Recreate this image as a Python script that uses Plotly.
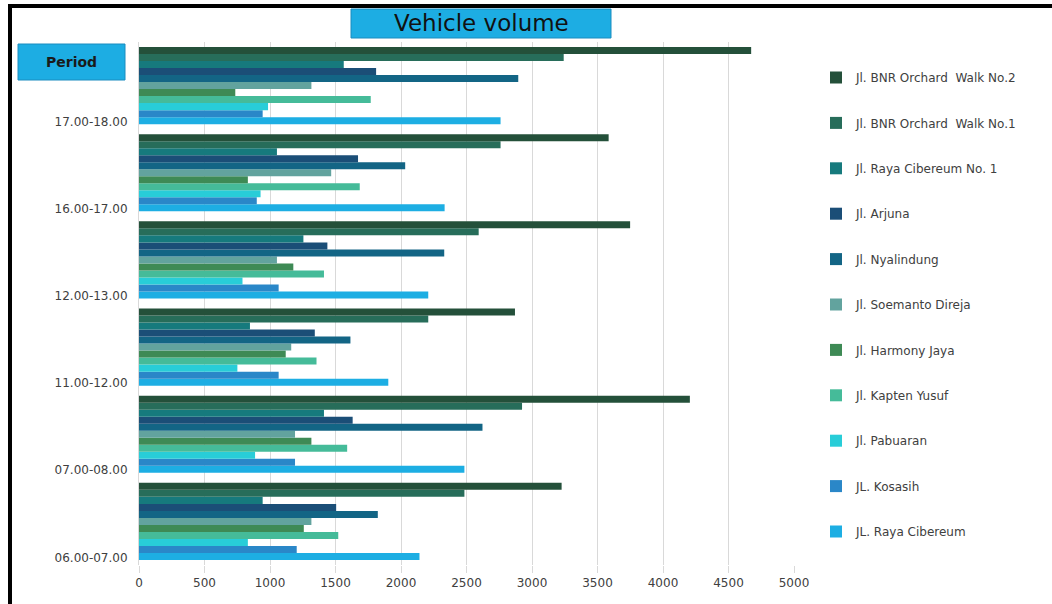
import plotly.graph_objects as go

periods = ["06.00-07.00", "07.00-08.00", "11.00-12.00", "12.00-13.00", "16.00-17.00", "17.00-18.00"]

# Legend order (top to bottom) / bar order within a group (top to bottom)
series_names = [
    "Jl. BNR Orchard  Walk No.2",
    "Jl. BNR Orchard  Walk No.1",
    "Jl. Raya Cibereum No. 1",
    "Jl. Arjuna",
    "Jl. Nyalindung",
    "Jl. Soemanto Direja",
    "Jl. Harmony Jaya",
    "Jl. Kapten Yusuf",
    "Jl. Pabuaran",
    "JL. Kosasih",
    "JL. Raya Cibereum",
]

bnr_walk_2 = [3226, 4205, 2870, 3749, 3585, 4673]
bnr_walk_1 = [2484, 2924, 2208, 2593, 2760, 3242]
raya_cibereum_1 = [944, 1412, 847, 1255, 1053, 1563]
arjuna = [1505, 1631, 1342, 1438, 1672, 1810]
nyalindung = [1823, 2622, 1614, 2330, 2032, 2895]
soemanto_direja = [1316, 1191, 1162, 1053, 1467, 1316]
harmony_jaya = [1258, 1316, 1120, 1178, 831, 735]
kapten_yusuf = [1521, 1589, 1355, 1412, 1685, 1769]
pabuaran = [831, 886, 751, 790, 928, 985]
kosasih = [1204, 1191, 1066, 1066, 899, 944]
raya_cibereum = [2141, 2484, 1903, 2208, 2333, 2760]

series_values = [bnr_walk_2, bnr_walk_1, raya_cibereum_1, arjuna, nyalindung,
                 soemanto_direja, harmony_jaya, kapten_yusuf, pabuaran, kosasih, raya_cibereum]

colors = ["#24503A", "#276D5A", "#167A7D", "#1B4E77", "#136585", "#62A39E",
          "#3E8A55", "#45BB99", "#28CDD8", "#2A87C8", "#1DAEE3"]

x_ticks = [0, 500, 1000, 1500, 2000, 2500, 3000, 3500, 4000, 4500, 5000]

FONT = "DejaVu Sans"
TXT = "#404040"

fig = go.Figure()
# add bottom-most bar first
for i in reversed(range(len(series_names))):
    fig.add_trace(go.Bar(
        y=periods, x=series_values[i], name=series_names[i], orientation="h",
        marker=dict(color=colors[i], line=dict(width=0)),
        legendgroup=f"g{i}", legendrank=(i + 1) * 100,
    ))

W, H = 1052, 604
ML, MR, MT, MB = 139, 258, 42, 39
PW, PH = W - ML - MR, H - MT - MB

def px(x):
    return (x - ML) / PW

def py(y):
    return (H - MB - y) / PH

shapes = [
    # outer frame (left and top)
    dict(type="line", xref="paper", yref="paper", x0=px(10), x1=px(10), y0=py(610), y1=py(6),
         line=dict(color="black", width=4)),
    dict(type="line", xref="paper", yref="paper", x0=px(8), x1=px(1052), y0=py(6), y1=py(6),
         line=dict(color="black", width=4)),
    # title box
    dict(type="rect", xref="paper", yref="paper", x0=px(351), x1=px(611), y0=py(38), y1=py(9),
         fillcolor="#1DADE3", line=dict(color="#1A8CBF", width=1)),
    # period box
    dict(type="rect", xref="paper", yref="paper", x0=px(18), x1=px(125), y0=py(80), y1=py(44),
         fillcolor="#1DADE3", line=dict(color="#1A8CBF", width=1)),
]

annotations = [
    dict(text="Vehicle volume", xref="paper", yref="paper", x=px(481), y=py(23),
         showarrow=False, xanchor="center", yanchor="middle",
         font=dict(family=FONT, size=23, color="#111111")),
    dict(text="<b>Period</b>", xref="paper", yref="paper", x=px(71), y=py(62),
         showarrow=False, xanchor="center", yanchor="middle",
         font=dict(family=FONT, size=14, color="#1a1a1a")),
]

fig.update_layout(
    width=W, height=H,
    margin=dict(l=ML, r=MR, t=MT, b=MB, pad=0),
    paper_bgcolor="white", plot_bgcolor="white",
    barmode="group", bargap=0.115, bargroupgap=0,
    font=dict(family=FONT, size=12, color=TXT),
    shapes=shapes, annotations=annotations,
    legend=dict(
        x=px(816), y=py(63), xanchor="left", yanchor="top",
        traceorder="grouped", tracegroupgap=26.4, itemwidth=30,
        font=dict(family=FONT, size=12, color=TXT),
        bgcolor="rgba(0,0,0,0)",
    ),
    xaxis=dict(
        range=[0, 5000], tickvals=x_ticks, ticktext=[str(v) for v in x_ticks],
        showgrid=True, gridcolor="#D9D9D9", gridwidth=1,
        zeroline=False, showline=False,
        ticks="outside", ticklen=7, tickcolor="#D9D9D9",
        tickfont=dict(family=FONT, size=12, color=TXT),
        fixedrange=True,
    ),
    yaxis=dict(
        type="category", categoryorder="array", categoryarray=periods,
        showgrid=False, zeroline=False,
        showline=True, linecolor="#D9D9D9", linewidth=1,
        ticks="", ticklabelshift=36, ticklabelstandoff=8,
        tickfont=dict(family=FONT, size=12, color=TXT),
        fixedrange=True,
    ),
)

fig.write_html("out.html")
